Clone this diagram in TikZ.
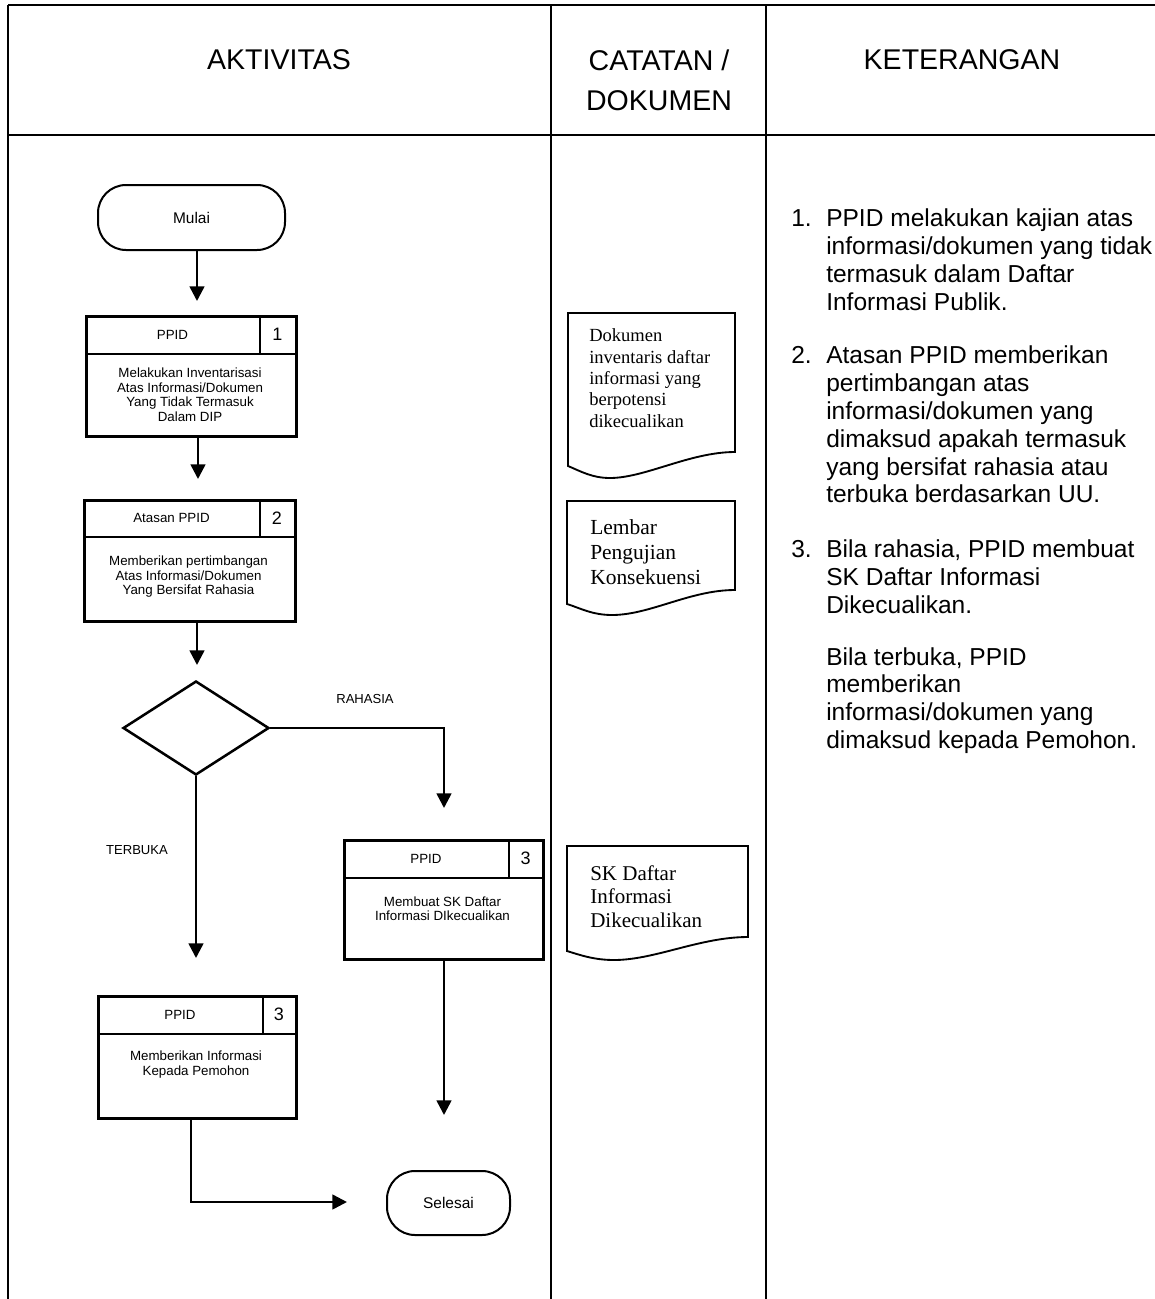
\documentclass[tikz,border=0pt]{standalone}
\usepackage{fontspec}
\setmainfont{Liberation Sans}
\newfontfamily\docfont{Liberation Serif}
\usetikzlibrary{arrows.meta,shapes.geometric}
\begin{document}
\begin{tikzpicture}[x=0.75pt,y=-0.75pt,
  tbl/.style={line width=1.5pt},
  tblh/.style={line width=2.2pt},
  flow/.style={line width=1.9pt},
  arr/.style={flow,-{Triangle[width=11pt,length=11pt]}},
  term/.style={draw,flow,line width=1.5pt,rectangle,rounded corners=21pt,inner sep=0pt,font=\fontsize{11.6}{13}\selectfont},
  pbox/.style={draw,flow,rectangle,inner sep=0pt,anchor=north west},
  hdr/.style={inner sep=0pt,font=\fontsize{21.4}{30}\selectfont,align=center},
  ket/.style={inner sep=0pt,anchor=west,align=left,font=\fontsize{18.4}{20.9}\selectfont},
  btxt/.style={inner sep=0pt,align=center,font=\fontsize{10}{10.9}\selectfont},
  bnum/.style={inner sep=0pt,font=\fontsize{13.5}{15}\selectfont},
  lbl/.style={inner sep=0pt,font=\fontsize{9.8}{11}\selectfont},
  doc/.style={line width=1.4pt},
  dtxt/.style={inner sep=0pt,anchor=west,align=left}
]
\useasboundingbox (0,0) rectangle (1155,1299);

% table
\draw[tblh] (8,5) -- (1155,5);
\draw[tblh] (8,135) -- (1155,135);
\draw[tbl] (8,5) -- (8,1299);
\draw[tbl] (551,5) -- (551,1299);
\draw[tbl] (766,5) -- (766,1299);

\node[hdr] (h1) at (279,60) {AKTIVITAS};
\node[hdr] (h2) at (659,80) {CATATAN /\\DOKUMEN};
\node[hdr] (h3) at (962,60) {KETERANGAN};

% flow
\node[term,minimum width=140.25pt,minimum height=48.75pt] (m) at (191.5,217.5) {Mulai};

\node[pbox,minimum width=157.5pt,minimum height=90pt] (b1) at (85,315) {};
\draw[flow] (85,354) -- (295,354);
\draw[flow] (260,315) -- (260,354);
\node[btxt] (b1h) at (172.5,334.5) {PPID};
\node[bnum] (b1n) at (277.5,334.5) {1};
\node[btxt] (b1t) at (190,394.5) {Melakukan Inventarisasi\\Atas Informasi/Dokumen\\Yang Tidak Termasuk\\Dalam DIP};

\node[pbox,minimum width=158.25pt,minimum height=90.75pt] (b2) at (83,499) {};
\draw[flow] (83,537) -- (294,537);
\draw[flow] (260,499) -- (260,537);
\node[btxt] (b2h) at (171.5,518) {Atasan PPID};
\node[bnum] (b2n) at (277,518) {2};
\node[btxt] (b2t) at (188.5,577) {Memberikan pertimbangan\\Atas Informasi/Dokumen\\Yang Bersifat Rahasia};

\node[draw,flow,diamond,inner sep=0pt,minimum width=109.5pt,minimum height=70.5pt] (d) at (196,728) {};

\node[pbox,minimum width=149.25pt,minimum height=89.25pt] (b3r) at (343,839) {};
\draw[flow] (343,878) -- (542,878);
\draw[flow] (509,839) -- (509,878);
\node[btxt] (b3rh) at (426,858.5) {PPID};
\node[bnum] (b3rn) at (525.5,858.5) {3};
\node[btxt] (b3rt) at (442.5,908.5) {Membuat SK Daftar\\Informasi DIkecualikan};

\node[pbox,minimum width=148.5pt,minimum height=91.5pt] (b3l) at (97,995) {};
\draw[flow] (97,1034) -- (295,1034);
\draw[flow] (263,995) -- (263,1034);
\node[btxt] (b3lh) at (180,1014.5) {PPID};
\node[bnum] (b3ln) at (279,1014.5) {3};
\node[btxt] (b3lt) at (196,1064.5) {Memberikan Informasi\\Kepada Pemohon};

\node[term,minimum width=92.25pt,minimum height=48pt] (s) at (448.5,1203) {Selesai};

\node[lbl] (lr) at (365,699) {RAHASIA};
\node[lbl] (lt) at (137,850) {TERBUKA};

% connectors
\coordinate (a1) at (197,301);
\draw[arr] (m.south -| a1) -- (a1);
\coordinate (a2) at (198,479);
\draw[arr] (b1.south -| a2) -- (a2);
\coordinate (a3) at (197,665);
\draw[arr] (b2.south -| a3) -- (a3);
\coordinate (a4) at (444,808);
\draw[arr] (d.east) -| (a4);
\coordinate (a5) at (196,958);
\draw[arr] (d.south) -- (a5);
\coordinate (a6) at (444,1115);
\draw[arr] (b3r.south -| a6) -- (a6);
\coordinate (c7) at (191,1202);
\coordinate (a7) at (347,1202);
\draw[arr] (b3l.south -| c7) -- (c7) -- (a7);

% documents
\draw[doc] (568,313) -- (735,313) -- (735,452) .. controls (690,452) and (645,478) .. (610,478) .. controls (592,478) and (580,471) .. (568,466) -- cycle;
\node[dtxt,font=\docfont\fontsize{13.9}{16}\selectfont] (d1) at (589,378) {Dokumen\\inventaris daftar\\informasi yang\\berpotensi\\dikecualikan};

\draw[doc] (567,501) -- (735,501) -- (735,590) .. controls (690,590) and (650,615) .. (612,615) .. controls (592,615) and (580,608) .. (567,604) -- cycle;
\node[dtxt,font=\docfont\fontsize{16.1}{19}\selectfont] (d2) at (590,552) {Lembar\\Pengujian\\Konsekuensi};

\draw[doc] (567,846) -- (748,846) -- (748,937) .. controls (700,937) and (655,960) .. (614,960) .. controls (594,960) and (580,955) .. (567,951) -- cycle;
\node[dtxt,font=\docfont\fontsize{15.75}{17.6}\selectfont] (d3) at (590,896.5) {SK Daftar\\Informasi\\Dikecualikan};

% keterangan
\node[ket] (k1) at (791,259.5) {\makebox[26.25pt][l]{1.}PPID melakukan kajian atas\\\hspace*{26.25pt}informasi/dokumen yang tidak\\\hspace*{26.25pt}termasuk dalam Daftar\\\hspace*{26.25pt}Informasi Publik.};
\node[ket] (k2) at (791,424.5) {\makebox[26.25pt][l]{2.}Atasan PPID memberikan\\\hspace*{26.25pt}pertimbangan atas\\\hspace*{26.25pt}informasi/dokumen yang\\\hspace*{26.25pt}dimaksud apakah termasuk\\\hspace*{26.25pt}yang bersifat rahasia atau\\\hspace*{26.25pt}terbuka berdasarkan UU.};
\node[ket] (k3) at (791,576.5) {\makebox[26.25pt][l]{3.}Bila rahasia, PPID membuat\\\hspace*{26.25pt}SK Daftar Informasi\\\hspace*{26.25pt}Dikecualikan.};
\node[ket] (k4) at (791,700.5) {\hspace*{26.25pt}Bila terbuka, PPID\\\hspace*{26.25pt}memberikan\\\hspace*{26.25pt}informasi/dokumen yang\\\hspace*{26.25pt}dimaksud kepada Pemohon.};
\end{tikzpicture}
\end{document}
